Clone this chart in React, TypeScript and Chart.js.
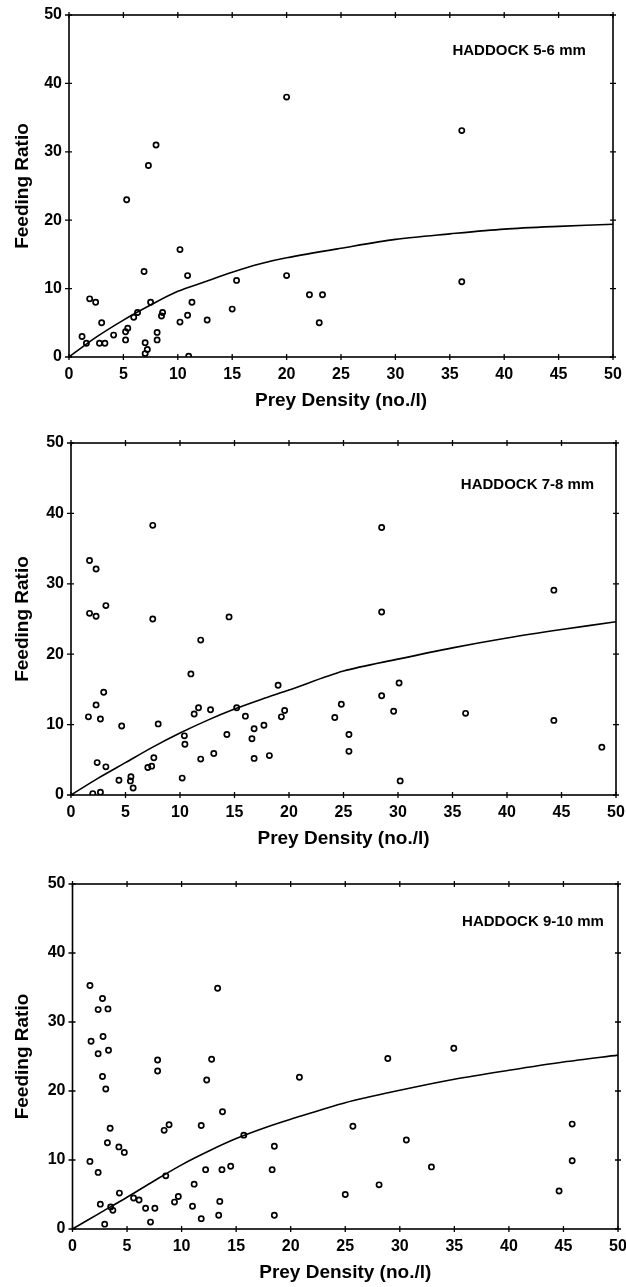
import React, { useEffect, useRef } from "react";
import { Chart, registerables } from "chart.js";

Chart.register(...registerables);

const FONT = "'Liberation Sans', Arial, Helvetica, sans-serif";

// ---- text ----
const panelLabels = ["HADDOCK 5-6 mm", "HADDOCK 7-8 mm", "HADDOCK 9-10 mm"];
const xAxisTitle = "Prey Density (no./l)";
const yAxisTitle = "Feeding Ratio";

// ---- axis ranges / ticks ----
const xRange = [0, 50];
const xStep = 5;
const yRange = [0, 50];
const yStep = 10;

// ---- Panel 1: HADDOCK 5-6 mm ----
const p1X = [1.2, 1.6, 1.9, 2.45, 3.0, 2.8, 3.3, 4.1, 5.2, 5.2, 5.4, 5.3, 5.95, 6.3, 6.9, 7.3, 8.0, 7.5, 7.0, 7.2, 7.0, 8.1, 8.1, 8.6, 8.5, 10.2, 10.2, 10.9, 10.9, 11.3, 11.0, 12.7, 15.0, 15.4, 20.0, 20.0, 22.1, 23.3, 23.0, 36.1, 36.1];
const p1Y = [3.0, 2.0, 8.5, 8.0, 5.0, 2.0, 2.0, 3.2, 2.5, 3.7, 4.2, 23.0, 5.8, 6.5, 12.5, 28.0, 31.0, 8.0, 2.1, 1.1, 0.5, 3.6, 2.5, 6.5, 6.0, 5.1, 15.7, 6.1, 11.9, 8.0, 0.1, 5.4, 7.0, 11.2, 38.0, 11.9, 9.1, 9.1, 5.0, 33.1, 11.0];
const c1X = [0, 2.5, 5, 7.5, 10, 12.5, 15, 17.5, 20, 25, 30, 35, 40, 45, 50];
const c1Y = [0, 2.9, 5.4, 7.6, 9.6, 11.0, 12.4, 13.6, 14.5, 15.9, 17.2, 18.0, 18.7, 19.1, 19.4];

// ---- Panel 2: HADDOCK 7-8 mm ----
const p2X = [1.7, 2.3, 1.7, 2.3, 3.2, 7.5, 7.5, 14.5, 11.9, 11.0, 19.0, 3.0, 2.3, 1.6, 2.7, 4.65, 8.0, 11.3, 11.7, 12.8, 15.2, 16.0, 17.7, 16.8, 16.6, 19.3, 19.6, 14.3, 10.4, 10.45, 10.2, 11.9, 13.1, 16.8, 18.2, 7.6, 7.4, 7.05, 3.2, 2.4, 4.4, 5.5, 5.45, 5.7, 2.0, 2.7, 28.5, 28.5, 44.3, 30.1, 28.5, 29.6, 24.8, 24.2, 25.5, 25.5, 36.2, 44.3, 48.7, 30.2];
const p2Y = [33.3, 32.1, 25.8, 25.4, 26.9, 38.3, 25.0, 25.3, 22.0, 17.2, 15.6, 14.6, 12.8, 11.1, 10.8, 9.8, 10.1, 11.5, 12.4, 12.1, 12.4, 11.2, 9.9, 9.4, 8.0, 11.1, 12.0, 8.6, 8.4, 7.2, 2.4, 5.1, 5.9, 5.2, 5.6, 5.3, 4.1, 3.9, 4.0, 4.6, 2.1, 2.6, 2.0, 1.0, 0.2, 0.4, 38.0, 26.0, 29.1, 15.9, 14.1, 11.9, 12.9, 11.0, 8.6, 6.2, 11.6, 10.6, 6.8, 2.0];
const c2X = [0, 2.5, 5, 7.5, 10, 12.5, 15, 17.5, 20, 25, 30, 35, 40, 45, 50];
const c2Y = [0, 2.4, 4.6, 6.8, 8.8, 10.6, 12.2, 13.6, 14.9, 17.6, 19.3, 20.9, 22.3, 23.5, 24.6];

// ---- Panel 3: HADDOCK 9-10 mm ----
const p3X = [1.6, 2.75, 2.35, 3.25, 1.7, 2.8, 2.35, 3.3, 2.75, 3.05, 3.45, 3.2, 4.25, 4.75, 1.6, 2.35, 2.55, 3.5, 3.7, 2.95, 4.3, 5.6, 6.1, 6.7, 7.55, 7.15, 7.8, 7.8, 8.4, 8.85, 8.55, 9.35, 9.7, 11.15, 11.0, 11.8, 11.8, 12.3, 12.75, 13.3, 13.75, 12.2, 13.7, 14.5, 13.5, 13.4, 15.7, 18.5, 18.3, 18.5, 20.8, 34.95, 28.9, 25.7, 30.6, 32.9, 28.1, 25.0, 44.6, 45.8, 45.8];
const p3Y = [35.3, 33.4, 31.8, 31.9, 27.2, 27.9, 25.4, 25.9, 22.1, 20.3, 14.6, 12.5, 11.9, 11.1, 9.8, 8.2, 3.6, 3.2, 2.7, 0.7, 5.2, 4.5, 4.2, 3.0, 3.0, 1.0, 24.5, 22.9, 14.3, 15.1, 7.7, 3.9, 4.7, 6.5, 3.3, 1.5, 15.0, 21.6, 24.6, 34.9, 17.0, 8.6, 8.6, 9.1, 4.0, 2.0, 13.6, 12.0, 8.6, 2.0, 22.0, 26.2, 24.7, 14.9, 12.9, 9.0, 6.4, 5.0, 5.5, 15.2, 9.9];
const c3X = [0, 2.5, 5, 7.5, 10, 12.5, 15, 17.5, 20, 25, 30, 35, 40, 45, 50];
const c3Y = [0, 2.3, 4.6, 7.0, 9.3, 11.3, 13.1, 14.6, 15.9, 18.3, 20.1, 21.7, 23.0, 24.2, 25.2];

// ---- layout (pixels) ----
const PANEL_LAYOUT = [
  { top: 0, height: 413, padTop: 15, left: 69, right: 613, labelX: 47.5, labelY: 44.7 },
  { top: 413, height: 438, padTop: 30, left: 71, right: 616, labelX: 48.0, labelY: 44.0 },
  { top: 851, height: 434, padTop: 33, left: 72.5, right: 618, labelX: 48.7, labelY: 44.5 },
];

const framePlugin = {
  id: "frameTicks",
  afterDatasetsDraw(chart: any, _args: any, opts: any) {
    const { ctx, chartArea: a, scales } = chart;
    const xs = scales.x;
    const ys = scales.y;
    ctx.save();
    ctx.strokeStyle = "#000";
    ctx.lineWidth = 1.6;
    ctx.strokeRect(a.left, a.top, a.right - a.left, a.bottom - a.top);
    ctx.lineWidth = 1.3;
    ctx.beginPath();
    xs.ticks.forEach((t: any) => {
      const px = xs.getPixelForValue(t.value);
      ctx.moveTo(px, a.bottom - 3);
      ctx.lineTo(px, a.bottom + 3);
      ctx.moveTo(px, a.top - 3);
      ctx.lineTo(px, a.top + 3);
    });
    ys.ticks.forEach((t: any) => {
      const py = ys.getPixelForValue(t.value);
      ctx.moveTo(a.left - 4, py);
      ctx.lineTo(a.left + 3, py);
      ctx.moveTo(a.right - 3, py);
      ctx.lineTo(a.right + 3, py);
    });
    ctx.stroke();
    ctx.font = `bold 15px ${FONT}`;
    ctx.textAlign = "right";
    ctx.textBaseline = "middle";
    ctx.fillStyle = "#000";
    ctx.fillText(opts.label, xs.getPixelForValue(opts.labelX), ys.getPixelForValue(opts.labelY));
    ctx.restore();
  },
};

type PanelProps = {
  idx: number;
  px: number[];
  py: number[];
  cx: number[];
  cy: number[];
};

function Panel({ idx, px, py, cx, cy }: PanelProps) {
  const ref = useRef<HTMLCanvasElement>(null);
  const L = PANEL_LAYOUT[idx];
  useEffect(() => {
    const chart = new Chart(ref.current as HTMLCanvasElement, {
      type: "scatter",
      data: {
        datasets: [
          {
            type: "line",
            data: cx.map((x, i) => ({ x, y: cy[i] })),
            borderColor: "#000",
            borderWidth: 1.6,
            pointRadius: 0,
            tension: 0.3,
            fill: false,
            order: 2,
          } as any,
          {
            type: "scatter",
            data: px.map((x, i) => ({ x, y: py[i] })),
            pointRadius: 2.6,
            pointBorderWidth: 1.7,
            borderColor: "#000",
            backgroundColor: "rgba(255,255,255,0)",
            order: 1,
          } as any,
        ],
      },
      options: {
        responsive: false,
        animation: false,
        events: [],
        layout: { padding: { top: L.padTop, left: 0, right: 626 - L.right, bottom: 0 } },
        plugins: {
          legend: { display: false },
          tooltip: { enabled: false },
          frameTicks: { label: panelLabels[idx], labelX: L.labelX, labelY: L.labelY },
        } as any,
        scales: {
          x: {
            type: "linear",
            position: "bottom",
            min: xRange[0],
            max: xRange[1],
            ticks: {
              stepSize: xStep,
              font: { family: FONT, size: 16, weight: "bold" },
              color: "#000",
              padding: 8,
              maxRotation: 0,
              autoSkip: false,
            },
            grid: { display: false, drawTicks: false },
            border: { display: false },
            title: {
              display: true,
              text: xAxisTitle,
              font: { family: FONT, size: 19, weight: "bold" },
              color: "#000",
              padding: { top: 0, bottom: 1 },
            },
            afterFit: (s: any) => {
              s.height = 56;
              s.paddingLeft = 0;
              s.paddingRight = 0;
            },
          },
          y: {
            type: "linear",
            position: "left",
            min: yRange[0],
            max: yRange[1],
            ticks: {
              stepSize: yStep,
              font: { family: FONT, size: 16, weight: "bold" },
              color: "#000",
              padding: 7,
            },
            grid: { display: false, drawTicks: false },
            border: { display: false },
            title: {
              display: true,
              text: yAxisTitle,
              font: { family: FONT, size: 19, weight: "bold" },
              color: "#000",
              padding: { top: 11, bottom: 0 },
            },
            afterFit: (s: any) => {
              s.width = L.left;
              s.paddingTop = 0;
              s.paddingBottom = 0;
            },
          },
        },
      } as any,
      plugins: [framePlugin as any],
    });
    return () => chart.destroy();
  }, []);
  return (
    <canvas
      ref={ref}
      width={626}
      height={L.height}
      style={{ position: "absolute", left: 0, top: L.top, display: "block" }}
    />
  );
}

export default function App() {
  return (
    <div style={{ position: "absolute", left: 0, top: 0, width: 626, height: 1287, background: "#fff" }}>
      <Panel idx={0} px={p1X} py={p1Y} cx={c1X} cy={c1Y} />
      <Panel idx={1} px={p2X} py={p2Y} cx={c2X} cy={c2Y} />
      <Panel idx={2} px={p3X} py={p3Y} cx={c3X} cy={c3Y} />
    </div>
  );
}
